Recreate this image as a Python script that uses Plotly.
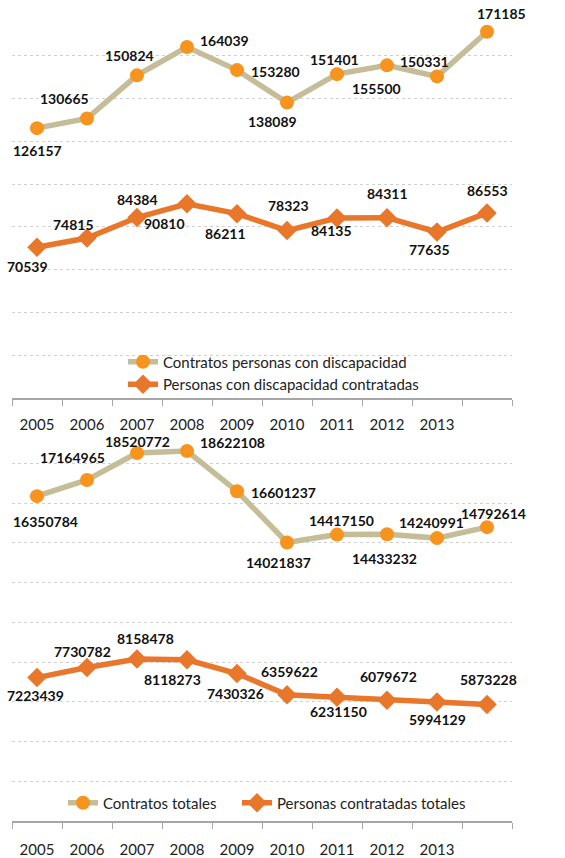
import plotly.graph_objects as go

# ---------------- data ----------------
years = ["2005", "2006", "2007", "2008", "2009", "2010", "2011", "2012", "2013", "2014"]
year_labels = ["2005", "2006", "2007", "2008", "2009", "2010", "2011", "2012", "2013", ""]

contratos_disc = [126157, 130665, 150824, 164039, 153280, 138089, 151401, 155500, 150331, 171185]
personas_disc = [70539, 74815, 84384, 90810, 86211, 78323, 84135, 84311, 77635, 86553]
contratos_tot = [16350784, 17164965, 18520772, 18622108, 16601237, 14021837, 14417150, 14433232, 14240991, 14792614]
personas_tot = [7223439, 7730782, 8158478, 8118273, 7430326, 6359622, 6231150, 6079672, 5994129, 5873228]

names_top = ["Contratos personas con discapacidad", "Personas con discapacidad contratadas"]
names_bot = ["Contratos totales", "Personas contratadas totales"]

# label offsets (px, right / down) -- layout only
off_a = [(0, 22), (-23, -20), (-8, -20), (37, -7), (38, 1), (-15, 19), (-3, -15), (-11, 23), (-13, -15), (14, -18)]
off_b = [(-10, 19), (-14, -14), (0, -18), (-23, 20), (-12, 20), (1, -25), (-6, 12), (0, -24), (-8, 17), (0, -22)]
off_c = [(8, 25), (-15, -22), (0, -12), (45, -9), (46, 1), (-9, 20), (4, -14), (-3, 24), (-6, -16), (6, -14)]
off_d = [(-2, 18), (-5, -16), (8, -21), (-15, 20), (-2, 20), (2, -23), (1, 14), (1, -24), (0, 17), (1, -25)]

W, H = 565, 858
TAN = "#C4BD97"
ORANGE_M = "#F7941E"
ORANGE_L = "#E8762B"
FONT = "Lato"

xpos = list(range(len(years)))          # category slot index for each year
bounds = [i - 0.5 for i in range(len(years) + 1)]

fig = go.Figure()

def add_pair(xa, ya, s1, s2, names, legends):
    fig.add_trace(go.Scatter(
        x=xpos, y=s1, name=names[0], mode="lines+markers",
        line=dict(color=TAN, width=5.5),
        marker=dict(symbol="circle", size=14, color=ORANGE_M),
        customdata=years, hovertemplate="%{customdata}: %{y}",
        xaxis=xa, yaxis=ya, legend=legends[0]))
    fig.add_trace(go.Scatter(
        x=xpos, y=s2, name=names[1], mode="lines+markers",
        line=dict(color=ORANGE_L, width=5.5),
        marker=dict(symbol="diamond", size=15, color=ORANGE_L),
        customdata=years, hovertemplate="%{customdata}: %{y}",
        xaxis=xa, yaxis=ya, legend=legends[1]))

add_pair("x", "y", contratos_disc, personas_disc, names_top, ("legend", "legend"))
add_pair("x2", "y2", contratos_tot, personas_tot, names_bot, ("legend2", "legend3"))

def add_labels(series, offs, xref, yref):
    for xi, v, (dx, dy) in zip(xpos, series, offs):
        fig.add_annotation(x=xi, y=v, xref=xref, yref=yref, text=str(v),
                           showarrow=False, xshift=dx, yshift=-dy,
                           font=dict(family=FONT, size=14, color="#111111", weight="bold"))

add_labels(contratos_disc, off_a, "x", "y")
add_labels(personas_disc, off_b, "x", "y")
add_labels(contratos_tot, off_c, "x2", "y2")
add_labels(personas_tot, off_d, "x2", "y2")

xdom = [12 / W, 512 / W]
xcommon = dict(
    domain=xdom, range=[bounds[0], bounds[-1]],
    tickmode="array", tickvals=xpos, ticktext=year_labels, ticks="",
    minor=dict(tickmode="array", tickvals=bounds, ticks="outside", ticklen=6,
               tickcolor="#A6A6A6", tickwidth=1, showgrid=False),
    showline=True, linecolor="#A6A6A6", linewidth=1.5,
    showgrid=False, zeroline=False, fixedrange=True,
    tickfont=dict(family=FONT, size=15, color="#222222"),
)
ycommon = dict(
    showticklabels=False, showgrid=True, gridcolor="#D0D0D0", griddash="dot",
    gridwidth=1, zeroline=False, showline=False, ticks="", fixedrange=True,
)
legfont = dict(family=FONT, size=15, color="#222222")

fig.update_layout(
    width=W, height=H,
    margin=dict(l=0, r=0, t=0, b=0),
    paper_bgcolor="white", plot_bgcolor="white",
    font=dict(family=FONT, size=14, color="#222222"),
    xaxis=dict(anchor="y", ticklabelstandoff=12, **xcommon),
    xaxis2=dict(anchor="y2", ticklabelstandoff=14, **xcommon),
    yaxis=dict(anchor="x", domain=[(H - 401) / H, (H - 13) / H], range=[0, 180000], dtick=20000, **ycommon),
    yaxis2=dict(anchor="x2", domain=[(H - 827) / H, (H - 427) / H], range=[0, 19.98e6], dtick=2e6, **ycommon),
    legend=dict(orientation="v", x=123 / W, xanchor="left", y=(H - 348) / H, yanchor="top",
                bgcolor="rgba(0,0,0,0)", font=legfont, tracegroupgap=0),
    legend2=dict(orientation="h", x=63 / W, xanchor="left", y=(H - 792) / H, yanchor="top",
                 bgcolor="rgba(0,0,0,0)", font=legfont),
    legend3=dict(orientation="h", x=237 / W, xanchor="left", y=(H - 792) / H, yanchor="top",
                 bgcolor="rgba(0,0,0,0)", font=legfont),
    showlegend=True,
    hovermode="closest",
)

fig.write_html("out.html")
